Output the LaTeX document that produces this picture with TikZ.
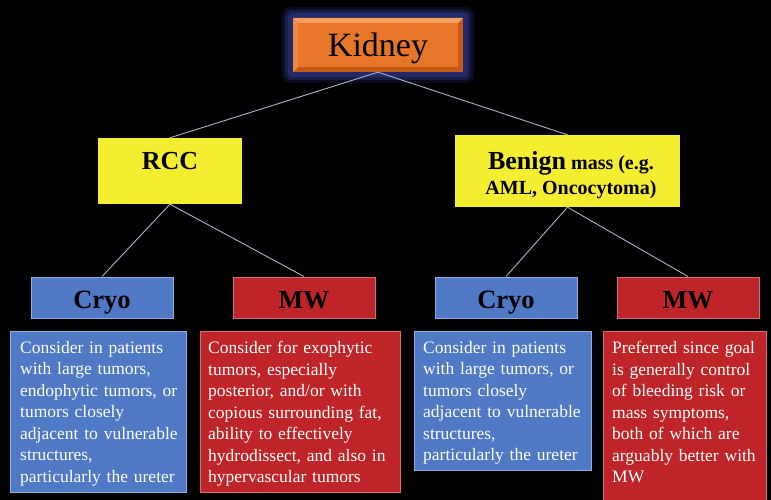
\documentclass[tikz,border=0pt]{standalone}
\usepackage{fontspec}
\setmainfont{Liberation Serif}
\definecolor{bgc}{RGB}{0,0,0}
\definecolor{orgface}{RGB}{232,118,40}
\definecolor{orglight}{RGB}{246,160,95}
\definecolor{orgmid}{RGB}{238,138,64}
\definecolor{orgdark}{RGB}{196,88,22}
\definecolor{glowc}{RGB}{40,48,120}
\definecolor{yellowc}{RGB}{245,238,48}
\definecolor{bluec}{RGB}{79,121,197}
\definecolor{bluebd}{RGB}{150,172,220}
\definecolor{redc}{RGB}{190,36,40}
\definecolor{redbd}{RGB}{214,110,110}
\definecolor{linec}{RGB}{170,178,206}
\begin{document}
\begin{tikzpicture}[x=1pt,y=-1pt,
  conn/.style={draw=linec, line width=0.9pt},
  yelbox/.style={fill=yellowc, draw=none, inner sep=0pt},
  headtxt/.style={font=\bfseries\fontsize{26}{30}\selectfont, text=black, inner sep=0pt},
  cryobox/.style={fill=bluec, draw=bluebd, line width=1pt, minimum width=142pt, minimum height=41pt, inner sep=0pt, text height=21pt, text depth=0pt, font=\bfseries\fontsize{26.5}{30}\selectfont, text=black},
  mwbox/.style={fill=redc, draw=redbd, line width=1pt, minimum width=142pt, minimum height=41pt, inner sep=0pt, text height=21pt, text depth=0pt, font=\bfseries\fontsize{26}{30}\selectfont, text=black},
  bluepanel/.style={fill=bluec, draw=bluebd, line width=1pt, inner sep=0pt, anchor=north west},
  redpanel/.style={fill=redc, draw=redbd, line width=1pt, inner sep=0pt, anchor=north west},
  bodytxt/.style={font=\fontsize{17.5}{21.5}\selectfont, text=white, align=left, anchor=north west, inner sep=0pt, text width=200pt}
]
\fill[bgc] (0,0) rectangle (771,500);
\useasboundingbox (0,0) rectangle (771,500);

% Kidney glow and bevelled box
\fill[glowc, opacity=0.25, rounded corners=8pt] (282,7) rectangle (474,83);
\fill[glowc, opacity=0.45, rounded corners=6pt] (285,10) rectangle (471,80);
\fill[glowc, opacity=0.7, rounded corners=4pt] (288,13) rectangle (468,77);
\fill[orgdark] (293,18) rectangle (463,72);
\fill[orglight] (293,18) -- (463,18) -- (458,23) -- (298,23) -- cycle;
\fill[orgmid] (293,18) -- (298,23) -- (298,67) -- (293,72) -- cycle;
\fill[orgface] (298,23) rectangle (458,67);
\node[minimum width=170pt, minimum height=54pt, inner sep=0pt, text height=24pt, text depth=0pt,
      font=\fontsize{34}{40}\selectfont, text=black] (kidney) at (378,45) {Kidney};

% second level
\node[yelbox, minimum width=144pt, minimum height=66pt] (rcc) at (170,171) {};
\node[headtxt] (rcctxt) at (170,161) {RCC};
\node[yelbox, minimum width=225pt, minimum height=72pt] (benign) at (567.5,171) {};
\node[font=\bfseries\fontsize{20}{25}\selectfont, align=center, inner sep=0pt] (benigntxt) at (571,175)
  {{\fontsize{26}{25}\selectfont Benign} mass (e.g.\\AML, Oncocytoma)};

% third level
\node[cryobox] (cryo1) at (102,297.5) {Cryo};
\node[mwbox] (mw1) at (304,297.5) {MW};
\node[cryobox] (cryo2) at (506,297.5) {Cryo};
\node[mwbox] (mw2) at (688,297.5) {MW};

% connectors
\draw[conn] (kidney.south) -- (rcc.north);
\draw[conn] (kidney.south) -- (benign.north);
\draw[conn] (rcc.south) -- (cryo1.north);
\draw[conn] (rcc.south) -- (mw1.north);
\draw[conn] (benign.south) -- (cryo2.north);
\draw[conn] (benign.south) -- (mw2.north);

% panels
\node[bluepanel, minimum width=176pt, minimum height=161pt] (p1) at (10,331) {};
\node[redpanel, minimum width=200pt, minimum height=161pt] (p2) at (200,331) {};
\node[bluepanel, minimum width=177pt, minimum height=139pt] (p3) at (414,331) {};
\node[redpanel, minimum width=163pt, minimum height=172pt] (p4) at (603,331) {};

\node[bodytxt] (t1) at (20,341) {Consider in patients\\with large tumors,\\endophytic tumors, or\\tumors closely\\adjacent to vulnerable\\structures,\\particularly the ureter};
\node[bodytxt] (t2) at (208,341) {Consider for exophytic\\tumors, especially\\posterior, and/or with\\copious surrounding fat,\\ability to effectively\\hydrodissect, and also in\\hypervascular tumors};
\node[bodytxt] (t3) at (423,341) {Consider in patients\\with large tumors, or\\tumors closely\\adjacent to vulnerable\\structures,\\particularly the ureter};
\node[bodytxt] (t4) at (612,341) {Preferred since goal\\is generally control\\of bleeding risk or\\mass symptoms,\\both of which are\\arguably better with\\MW};
\end{tikzpicture}
\end{document}
